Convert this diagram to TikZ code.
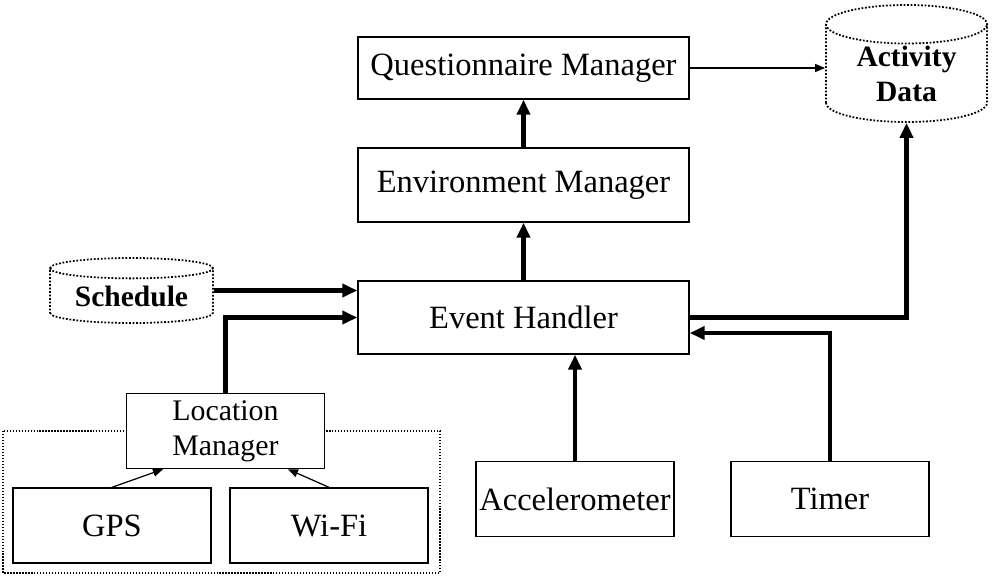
\documentclass[tikz,border=0pt]{standalone}
\usepackage{fontspec}
\setmainfont{Liberation Serif}
\usetikzlibrary{arrows.meta,shapes.geometric,positioning}

\tikzset{
    box/.style={draw, line width=0.8pt, fill=white, minimum width=6.62cm, minimum height=1.46cm, font=\fontsize{18.5}{22}\selectfont},
    unit/.style={box, inner xsep=1pt, minimum width=3.96cm, minimum height=1.5cm},
    store/.style={cylinder, shape border rotate=90, draw, densely dotted, line width=1pt, fill=white, inner sep=0pt, align=center, anchor=shape center, font=\bfseries\fontsize{16.8}{20}\selectfont},
    flow/.style={line width=2.3pt, -{Triangle[length=0.3cm,width=0.26cm]}},
    link/.style={line width=0.7pt, -{Triangle[length=0.2cm,width=0.16cm]}},
}

\begin{document}
\begin{tikzpicture}
\useasboundingbox (0,0) rectangle (19.84,-11.6);

\draw [densely dotted, line width=0.7pt] (0.06,-8.62) rectangle (8.8,-11.46);

\node [box] (qm) at (10.47,-1.36) [minimum height=1.24cm] {Questionnaire Manager};
\node [box] (em) at (10.47,-3.70) [minimum height=1.48cm] {Environment Manager};
\node [box] (eh) at (10.47,-6.35) {Event Handler};

\node [store, minimum width=3.22cm, minimum height=2.34cm, aspect=0.385] (ad) at (18.13,-1.27) {Activity\\Data};
\node [store, minimum width=3.26cm, minimum height=1.3cm, aspect=0.18] (sch) at (2.63,-5.81) {Schedule};

\node [unit, align=center, font=\fontsize{17}{20}\selectfont] (lm) at (4.51,-8.62) {Location\\Manager};
\node [unit] (gps) at (2.24,-10.51) {GPS};
\node [unit] (wifi) at (6.58,-10.51) {Wi-Fi};
\node [unit] (acc) at (11.5,-9.98) {Accelerometer};
\node [unit] (timer) at (16.6,-9.98) {Timer};

\draw [link] (qm.east) -- (qm.east -| ad.west);
\draw [flow] (em.north) -- (qm.south);
\draw [flow] (eh.north) -- (em.south);
\draw [flow] (sch.shape center -| sch.east) -- (sch.shape center -| eh.west);
\draw [flow] (lm.north) |- (eh.west);
\draw [flow] (eh.east) -| (ad.south);
\draw [flow] (acc.north) -- (acc.north |- eh.south);
\draw [flow] (timer.north) |- ([yshift=-0.31cm]eh.east);
\draw [link] (gps.north) -- ([xshift=-1.25cm]lm.south);
\draw [link] (wifi.north) -- ([xshift=1.25cm]lm.south);

\end{tikzpicture}
\end{document}
